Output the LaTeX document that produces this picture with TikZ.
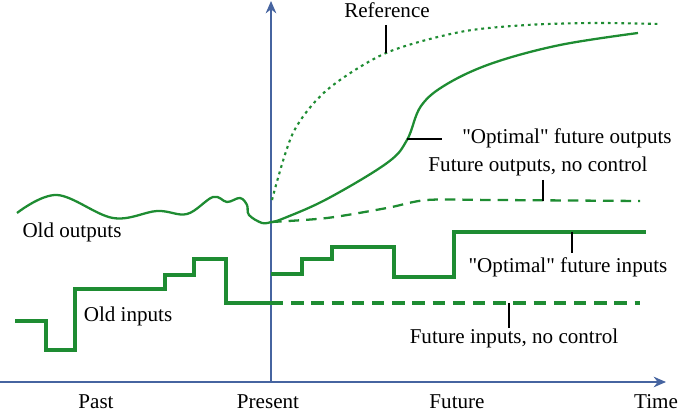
\documentclass[tikz,border=0pt]{standalone}
\usepackage{fontspec}
\setmainfont{Liberation Serif}
\definecolor{kurve}{RGB}{30,140,50}
\definecolor{achse}{RGB}{70,100,160}
\tikzset{
	ausgang/.style={kurve, line width=1.3pt},
	eingang/.style={kurve, line width=1.9pt},
	achsenpfeil/.style={achse, line width=1.2pt, -{Stealth[length=7pt,width=6pt]}},
	marke/.style={black, line width=1.2pt},
	beschr/.style={font=\fontsize{12}{14}\selectfont, inner sep=0pt}
}
\usetikzlibrary{arrows.meta}
\begin{document}
\begin{tikzpicture}[x=0.02cm, y=-0.02cm]
	\useasboundingbox (0,0) rectangle (685,411); % Rand wie Vorlage
	
	% Achsen
	\coordinate (ursprung) at (271,382);
	\draw[achsenpfeil] (0,382) -- (666,382);
	\draw[achsenpfeil] (ursprung) -- (271,1);
	
	\node[beschr, anchor=base] (past) at (96,408) {Past};
	\node[beschr, anchor=base] (present) at (268,408) {Present};
	\node[beschr, anchor=base] (future) at (457,408) {Future};
	\node[beschr, anchor=base] (time) at (656,408) {Time};
	
	% alte Ausgaenge
	\draw[ausgang] plot[smooth, tension=0.6] coordinates {(17,213) (57,195) (113,218) (157,211) (187,214) (213,197) (227,202) (240,198) (247,205) (249,215) (262,223) (271,222)};
	\node[beschr] (oldout) at (72,232) {Old outputs};
	
	% alte Eingaenge
	\draw[eingang] (15,321) -- (46,321) -- (46,350) -- (75,350) -- (75,289) -- (165,289) -- (165,275) -- (194,275) -- (194,259) -- (226,259) -- (226,303) -- (271,303);
	\node[beschr] (oldin) at (128,316) {Old inputs};
	
	% Referenz
	\draw[kurve, line width=1.2pt, dash pattern=on 1.6pt off 2.2pt] plot[smooth] coordinates {(272,200) (293,133) (327,90) (386,53) (460,32) (527,25) (595,23) (660,24)};
	\node[beschr] (ref) at (387,10) {Reference};
	\coordinate (refmarke) at (386,25);
	\draw[marke] (refmarke) -- (386,53);
	
	% optimale Ausgaenge
	\draw[ausgang] plot[smooth, tension=0.6] coordinates {(271,222) (282,219) (327,199) (387,163) (407,140) (421,106) (447,84) (493,63) (560,45) (638,33)};
	\node[beschr] (optout) at (567,138) {\textquotedbl Optimal\textquotedbl{} future outputs};
	\coordinate (optoutmarke) at (442,139);
	\draw[marke] (407,139) -- (optoutmarke);
	
	% Ausgaenge ohne Regelung
	\draw[ausgang, dash pattern=on 6pt off 4pt] plot[smooth] coordinates {(271,222) (327,218) (387,208) (427,200) (493,200) (640,201)};
	\node[beschr] (noctrlout) at (538,166) {Future outputs, no control};
	\coordinate (noctrloutmarke) at (543,180);
	\draw[marke] (noctrloutmarke) -- (543,201);
	
	% optimale Eingaenge
	\draw[eingang] (271,274) -- (302,274) -- (302,259) -- (332,259) -- (332,247) -- (394,247) -- (394,277) -- (454,277) -- (454,232) -- (646,232);
	\node[beschr] (optin) at (568,267) {\textquotedbl Optimal\textquotedbl{} future inputs};
	\coordinate (optinmarke) at (572,253);
	\draw[marke] (572,232) -- (optinmarke);
	
	% Eingaenge ohne Regelung
	\draw[eingang, line width=1.8pt, dash pattern=on 7pt off 4.5pt] (271,303) -- (640,303);
	\node[beschr] (noctrlin) at (514,338) {Future inputs, no control};
	\coordinate (noctrlinmarke) at (509,328);
	\draw[marke] (509,303) -- (noctrlinmarke);
	
	%\draw[help lines, step=50] (0,0) grid (685,411);
\end{tikzpicture}
\end{document}
